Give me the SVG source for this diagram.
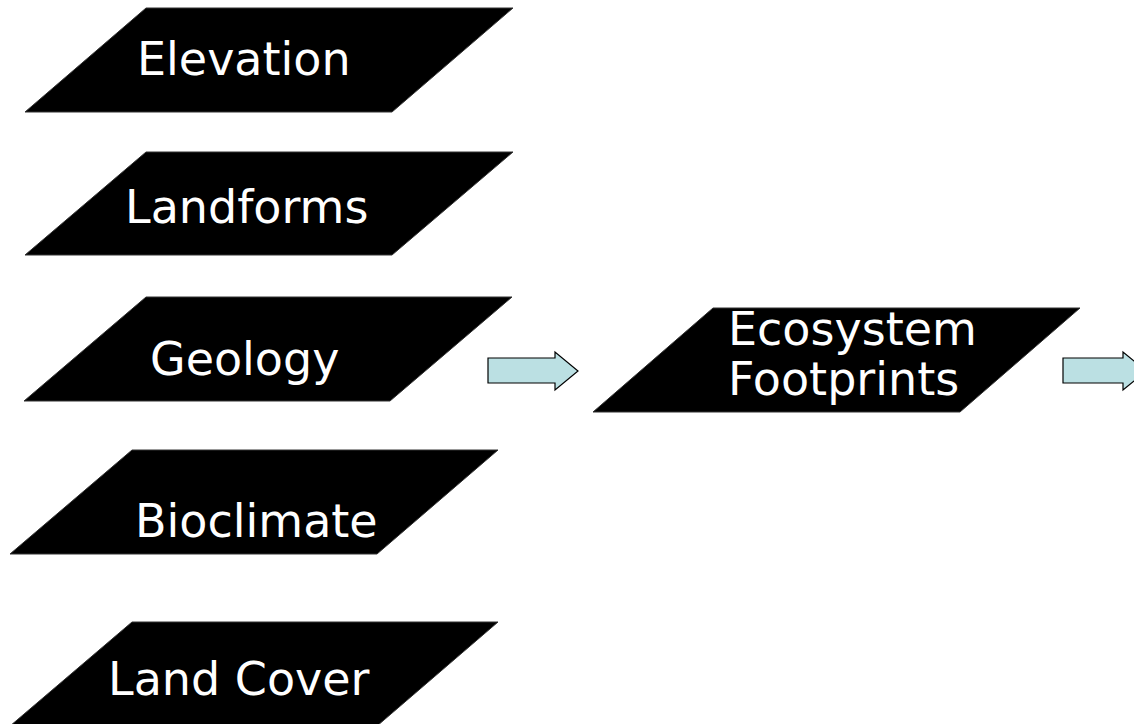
<svg xmlns="http://www.w3.org/2000/svg" width="1134" height="724" viewBox="0 0 1134 724">
<style>
.shape{fill:#000;stroke:#333;stroke-width:1}
.lbl{font-family:"DejaVu Sans",Verdana,sans-serif;font-size:46px;fill:#fff}
.arrow{fill:#BBE0E3;stroke:#000;stroke-width:1.2;stroke-linejoin:miter}
</style>
<rect width="1134" height="724" fill="#fff"/>
<g id="elevation">
<polygon class="shape" points="146,8 513,8 392,112 25,112"/>
<text class="lbl" x="137" y="75">Elevation</text>
</g>
<g id="landforms">
<polygon class="shape" points="146,152 513,152 392,255 25,255"/>
<text class="lbl" x="125" y="223">Landforms</text>
</g>
<g id="geology">
<polygon class="shape" points="146,297 512,297 390,401 24,401"/>
<text class="lbl" x="150" y="375">Geology</text>
</g>
<g id="bioclimate">
<polygon class="shape" points="132,450 498,450 377,554 10,554"/>
<text class="lbl" x="135" y="537">Bioclimate</text>
</g>
<g id="landcover">
<polygon class="shape" points="132,622 498,622 377,726 10,726"/>
<text class="lbl" x="108" y="695">Land Cover</text>
</g>
<g id="ecosystem">
<polygon class="shape" points="713,308 1080,308 960,412 593,412"/>
<text class="lbl" x="728" y="345">Ecosystem</text>
<text class="lbl" x="728" y="395">Footprints</text>
</g>
<g id="connectors">
<path class="arrow" d="M488,358 H555 V352 L578,371 L555,390 V383 H488 Z"/>
<path class="arrow" d="M1063,358 H1123 V352 L1146,371 L1123,390 V383 H1063 Z"/>
</g>
</svg>
